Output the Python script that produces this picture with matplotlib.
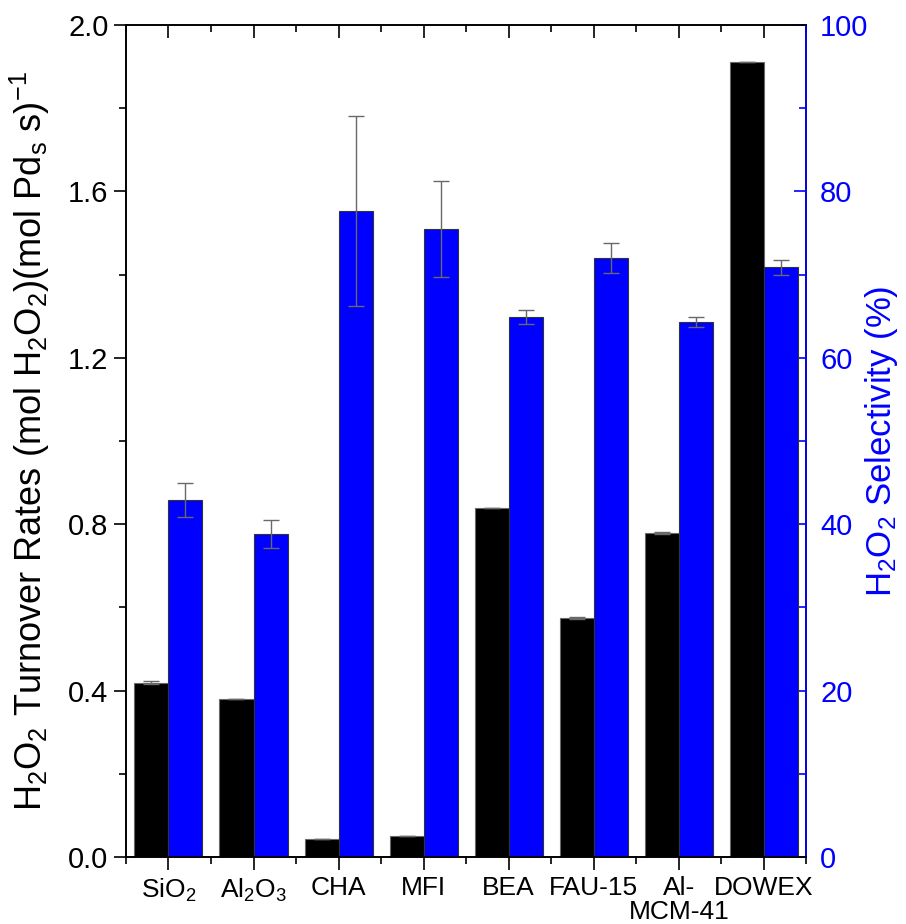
import numpy as np
import matplotlib
matplotlib.use("Agg")
from matplotlib import pyplot as plt
from matplotlib.ticker import MultipleLocator

plt.rcParams["font.family"] = ["Liberation Sans", "DejaVu Sans"]
plt.rcParams["mathtext.fontset"] = "custom"
plt.rcParams["mathtext.rm"] = "Liberation Sans"
plt.rcParams["mathtext.it"] = "Liberation Sans"
plt.rcParams["mathtext.bf"] = "Liberation Sans:bold"

catalysts = ["SiO$_2$", "Al$_2$O$_3$", "CHA", "MFI", "BEA", "FAU-15", "Al-\nMCM-41", "DOWEX"]
turnover = [0.419, 0.380, 0.044, 0.051, 0.839, 0.575, 0.779, 1.910]
turnover_err = [0.004, 0.0, 0.0, 0.0, 0.0, 0.002, 0.002, 0.0]
selectivity = [42.9, 38.8, 77.6, 75.5, 64.9, 72.0, 64.3, 70.9]
selectivity_err = [2.0, 1.7, 11.4, 5.8, 0.8, 1.8, 0.6, 0.9]

x = np.arange(1, len(catalysts) + 1)
width = 0.4
err_kw = dict(ecolor="dimgray", elinewidth=1.0, capsize=6, capthick=1.0)

fig = plt.figure(figsize=(9.06, 9.24), dpi=100)
ax = fig.add_axes([0.139, 0.0725, 0.751, 0.9005])
ax2 = ax.twinx()

ax.bar(x - width / 2, turnover, width, yerr=turnover_err, color="black",
       edgecolor="dimgray", linewidth=0.8, error_kw=err_kw, zorder=2)
ax2.bar(x + width / 2, selectivity, width, yerr=selectivity_err, color="#0000ff",
        edgecolor="#333333", linewidth=0.8, error_kw=err_kw, zorder=2)

ax.set_xlim(0.5, 8.5)
ax.set_ylim(0, 2.0)
ax2.set_ylim(0, 100)

ax.set_xticks(x)
ax.set_xticklabels(catalysts, fontsize=19, linespacing=1.0)
ax.xaxis.set_minor_locator(MultipleLocator(0.5))
ax.yaxis.set_minor_locator(MultipleLocator(0.2))
ax.set_yticks([0.0, 0.4, 0.8, 1.2, 1.6, 2.0])
ax.set_yticklabels(["0.0", "0.4", "0.8", "1.2", "1.6", "2.0"])
ax.tick_params(axis="y", which="major", direction="out", length=9, width=1.2, labelsize=21)
ax.tick_params(axis="y", which="minor", direction="out", length=5, width=1.2)
ax.tick_params(axis="x", which="major", direction="out", length=9, width=1.2,
               top=True, pad=5)
ax.tick_params(axis="x", which="minor", direction="out", length=5, width=1.2, top=True)
ax.tick_params(axis="x", which="both", labeltop=False)
# top ticks point into the plot
for t in ax.xaxis.get_major_ticks() + ax.xaxis.get_minor_ticks():
    t.tick2line.set_marker(3)

ax2.yaxis.set_major_locator(MultipleLocator(20))
ax2.yaxis.set_minor_locator(MultipleLocator(10))
ax2.tick_params(axis="y", which="major", direction="in", length=9, width=1.2,
                colors="#0000ff", labelsize=21, pad=10)
ax2.tick_params(axis="y", which="minor", direction="in", length=5, width=1.2,
                colors="#0000ff")

for spine in ax.spines.values():
    spine.set_linewidth(1.2)
for spine in ax2.spines.values():
    spine.set_linewidth(1.2)
ax2.spines["right"].set_color("#0000ff")

ax.set_ylabel("H$_2$O$_2$ Turnover Rates (mol H$_2$O$_2$)(mol Pd$_\\mathrm{s}$ s)$^{-1}$",
              fontsize=26)
ax.yaxis.set_label_coords(-0.108, 0.5)
ax2.set_ylabel("H$_2$O$_2$ Selectivity (%)", fontsize=25, color="#0000ff")
ax2.yaxis.set_label_coords(1.083, 0.5)

fig.savefig("out.png", dpi=100)
